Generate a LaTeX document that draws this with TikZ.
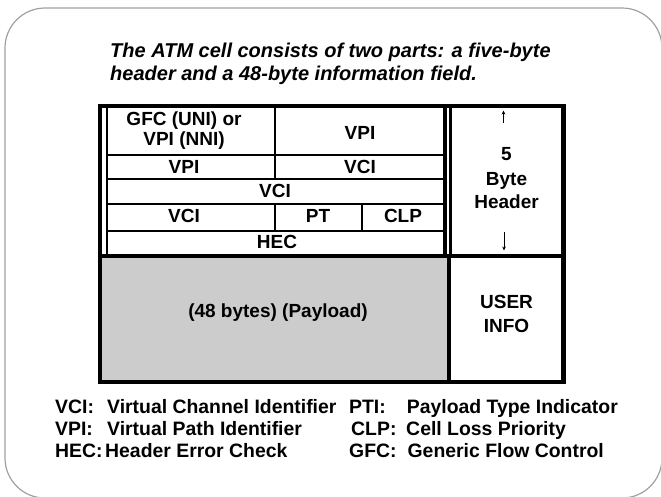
\documentclass[tikz,border=0pt]{standalone}
\usepackage{fontspec}
\setmainfont{Liberation Sans}
\usetikzlibrary{arrows.meta}
\definecolor{framegray}{RGB}{160,160,160}
\definecolor{paygray}{RGB}{204,204,204}
\begin{document}
\begin{tikzpicture}[x=1pt,y=-1pt,
  titletext/.style={anchor=base west,inner sep=0pt,font=\bfseries\itshape\fontsize{20}{23}\selectfont},
  celltext/.style={anchor=base,inner sep=0pt,font=\bfseries\fontsize{19}{21}\selectfont},
  multitext/.style={anchor=center,inner sep=0pt,align=center,font=\bfseries\fontsize{19}{21}\selectfont},
  legkey/.style={anchor=base west,inner sep=0pt,font=\bfseries\fontsize{19.4}{22}\selectfont},
  legval/.style={anchor=base east,inner sep=0pt,font=\bfseries\fontsize{19.4}{22}\selectfont},
  legvalw/.style={anchor=base west,inner sep=0pt,font=\bfseries\fontsize{19.4}{22}\selectfont},
  heavy/.style={line width=4.2pt},
  medium/.style={line width=3.2pt},
  thinrule/.style={line width=1.8pt},
  arrowline/.style={line width=1pt,-{Stealth[length=4pt,width=3.6pt]}}]
\useasboundingbox (0,0) rectangle (661,496);
% outer frame
\draw[framegray,line width=1.2pt,rounded corners=40pt] (5,8) rectangle (662,498);
% title
\node[titletext] (t1) at (110,57) {The ATM cell consists of two parts: a five-byte};
\node[titletext] (t2) at (110,80) {header and a 48-byte information field.};
% payload fill
\fill[paygray] (100,256) rectangle (449,382);
% outer table frame
\draw[heavy] (100,105.7) rectangle (563.5,382);
\draw[heavy] (100,256) -- (563.5,256);
\draw[line width=4.5pt] (449,256) -- (449,382);
% header block borders
\draw[line width=2pt] (106.7,105.7) -- (106.7,256);
\draw[medium] (445,105.7) -- (445,256);
\draw[medium] (450.2,105.7) -- (450.2,256);
% header rows
\draw[thinrule] (106.7,155) -- (445,155);
\draw[line width=2.7pt] (106.7,179) -- (445,179);
\draw[thinrule] (106.7,204) -- (445,204);
\draw[thinrule] (106.7,231) -- (445,231);
\draw[line width=2pt] (275,105.7) -- (275,179);
\draw[line width=2pt] (275,204) -- (275,231);
\draw[line width=2pt] (362,204) -- (362,231);
% cell texts
\node[multitext] (gfc) at (184,131) {GFC (UNI) or\\[-1pt]VPI (NNI)};
\node[celltext] (vpia) at (360,139) {VPI};
\node[celltext] (vpib) at (184,173.5) {VPI};
\node[celltext] (vcia) at (360,173.5) {VCI};
\node[celltext] (vcib) at (275,197) {VCI};
\node[celltext] (vcic) at (184,222) {VCI};
\node[celltext] (pt) at (318,222) {PT};
\node[celltext] (clp) at (403,222) {CLP};
\node[celltext] (hec) at (277,248) {HEC};
% right column
\node[celltext] (five) at (506.5,160.5) {5};
\node[celltext] (byte) at (506.5,185) {Byte};
\node[celltext] (header) at (506.5,208) {Header};
\coordinate (upa) at (503.5,123);
\coordinate (upb) at (503.5,110.5);
\coordinate (dna) at (504,232);
\coordinate (dnb) at (504,250.5);
\draw[arrowline] (upa) -- (upb);
\draw[arrowline] (dna) -- (dnb);
% payload
\node[celltext] (pay) at (278,317) {(48 bytes) (Payload)};
\node[celltext] (user) at (506.5,308.5) {USER};
\node[celltext] (info) at (506.5,332) {INFO};
% legend
\node[legkey] (k1) at (55,413.5) {VCI:};
\node[legvalw] (v1) at (107,413.5) {Virtual Channel Identifier};
\node[legkey] (k2) at (55,435.5) {VPI:};
\node[legvalw] (v2) at (107,435.5) {Virtual Path Identifier};
\node[legkey] (k3) at (55,457.5) {HEC:};
\node[legvalw] (v3) at (105,457.5) {Header Error Check};
\node[legkey] (k4) at (349,413.5) {PTI:};
\node[legval] (v4) at (618,413.5) {Payload Type Indicator};
\node[legkey] (k5) at (351,435.5) {CLP:};
\node[legval] (v5) at (566,435.5) {Cell Loss Priority};
\node[legkey] (k6) at (349,457.5) {GFC:};
\node[legval] (v6) at (604,457.5) {Generic Flow Control};
\end{tikzpicture}
\end{document}
